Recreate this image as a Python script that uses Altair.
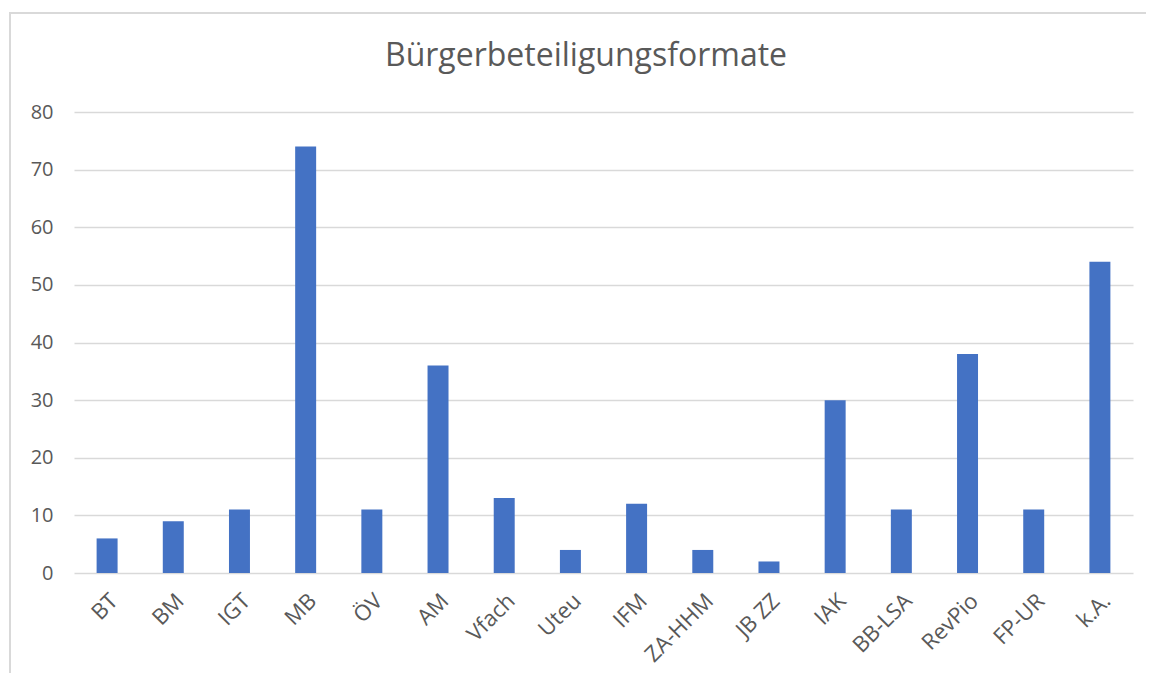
import altair as alt
import pandas as pd

categories = ["BT", "BM", "IGT", "MB", "ÖV", "AM", "Vfach", "Uteu", "IFM",
              "ZA-HHM", "JB ZZ", "IAK", "BB-LSA", "RevPio", "FP-UR", "k.A."]
values = [6, 9, 11, 74, 11, 36, 13, 4, 12, 4, 2, 30, 11, 38, 11, 54]
y_ticks = [0, 10, 20, 30, 40, 50, 60, 70, 80]
title_text = "Bürgerbeteiligungsformate"

df = pd.DataFrame({"cat": categories, "val": values})

FONT = "Open Sans"
GRAY = "#595959"

bars = alt.Chart(df).mark_bar(color="#4472C4").encode(
    x=alt.X("cat:N", sort=categories, title=None,
            scale=alt.Scale(paddingInner=0.683, paddingOuter=0.3415),
            axis=alt.Axis(labelAngle=-45, labelFontSize=22, labelColor=GRAY,
                          labelFont=FONT, ticks=False, domain=False,
                          labelPadding=17, grid=False)),
    y=alt.Y("val:Q", title=None,
            scale=alt.Scale(domain=[0, 80], nice=False),
            axis=alt.Axis(values=y_ticks, labelFontSize=20, labelColor=GRAY,
                          labelFont=FONT, ticks=False, domain=False,
                          labelPadding=21, gridColor="#d9d9d9", gridWidth=1.3)),
)

border = alt.Chart(df).mark_rect(fill=None, stroke="#d9d9d9", strokeWidth=1.3).encode(
    x=alt.value(-64), x2=alt.value(1090), y=alt.value(-99), y2=alt.value(700)
)

title = alt.Chart(pd.DataFrame({"t": [title_text]})).mark_text(
    font=FONT, fontSize=32, color=GRAY, baseline="alphabetic", align="center"
).encode(text="t:N", x=alt.value(512), y=alt.value(-46))

chart = alt.layer(border, bars, title).properties(
    width=1059, height=461,
    autosize=alt.AutoSizeParams(type="none"),
    padding={"left": 66, "top": 104, "right": 13, "bottom": 110},
).configure_view(stroke=None)

chart.save("out.html", embed_options={"renderer": "svg", "actions": False})
